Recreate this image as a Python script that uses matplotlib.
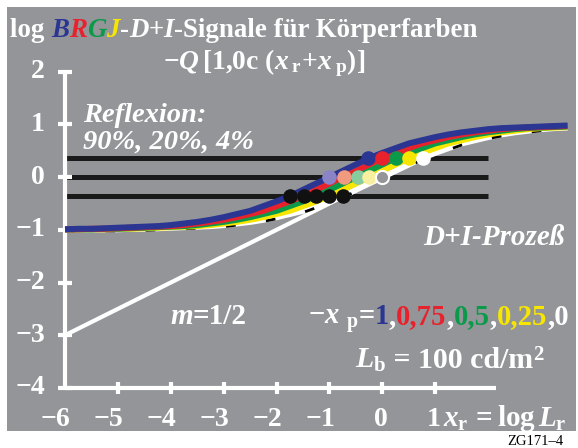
import numpy as np
import matplotlib
matplotlib.use("Agg")
import matplotlib.pyplot as plt
from matplotlib.patches import Rectangle

plt.rcParams["font.family"] = "Liberation Serif"
plt.rcParams["font.weight"] = "bold"
plt.rcParams["mathtext.fontset"] = "custom"
plt.rcParams["mathtext.rm"] = "Liberation Serif:bold"
plt.rcParams["mathtext.it"] = "Liberation Serif:italic:bold"
plt.rcParams["mathtext.bf"] = "Liberation Serif:bold"

# base curve (xp = 0)
base_x = np.arange(-6.0, 4.51, 0.25)
base_y = [-0.99, -0.99, -0.99, -0.99, -0.99, -0.98, -0.98, -0.97, -0.96,
          -0.95, -0.94, -0.93, -0.91, -0.88, -0.85, -0.81, -0.76, -0.70,
          -0.64, -0.55, -0.46, -0.36, -0.24, -0.12, 0.0, 0.12, 0.24, 0.36,
          0.46, 0.55, 0.64, 0.70, 0.76, 0.81, 0.85, 0.88, 0.91, 0.93, 0.94,
          0.95, 0.96, 0.97, 0.98]
xp_values = [0.0, 0.25, 0.5, 0.75, 1.0]
curve_colors = ["white", "#f7e600", "#0a9a4a", "#e8222c", "#2b3592"]

# reflection levels and the dots on them
levels = [0.37, 0.0, -0.35]
dots_top_x = [-0.28, 0.0, 0.26, 0.51, 0.76]
dots_top_c = ["#2b3592", "#e8222c", "#0a9a4a", "#f7e600", "white"]
dots_mid_x = [-1.0, -0.73, -0.47, -0.25, 0.0]
dots_mid_c = ["#8a84c6", "#f09a80", "#86cc9e", "#f8f0a0", "none"]
dots_low_x = [-1.75, -1.49, -1.25, -1.0, -0.75]

line_x = [-6.0, -0.5]   # slope m = 1/2 line
y_ticks = [-4, -3, -2, -1, 0, 1, 2]
x_ticks = [-6, -5, -4, -3, -2, -1, 0, 1]

W, H = 578, 448
GRAY = "#949599"

fig = plt.figure(figsize=(W / 100, H / 100), dpi=100)
fig.patch.set_facecolor("white")
ax = fig.add_axes([0, 0, 1, 1])
ax.set_xlim(-7.229, 3.698)
ax.set_ylim(-5.140, 3.361)
ax.axis("off")


def fx(px):
    return px / W


def fy(py):
    return 1 - py / H


fig.patches.append(Rectangle((fx(7), fy(431)), 569 / W, 424 / H,
                             transform=fig.transFigure, facecolor=GRAY,
                             edgecolor="none", zorder=-5))


def lab(t):
    return "\u2212%d" % -t if t < 0 else str(t)


# axes
ax.plot([-6, -6], [-4, 2], color="white", lw=3, solid_capstyle="butt", zorder=3)
ax.plot([-6, 2.15], [-4, -4], color="white", lw=3, solid_capstyle="butt", zorder=3)
for t in y_ticks:
    ax.plot([-6.13, -5.87], [t, t], color="white", lw=3, solid_capstyle="butt", zorder=3)
    ax.text(-6.38, t, lab(t), color="white", fontsize=20, ha="right", va="center")
for t in x_ticks:
    if t > -6:
        ax.plot([t, t], [-4.11, -3.89], color="white", lw=3, solid_capstyle="butt", zorder=3)
    ax.text(t + 0.1, -4.72, lab(t), color="white", fontsize=20, ha="right", va="baseline")

# reflection lines
for lv in levels:
    ax.plot([-6, 2.0], [lv, lv], color="#1a1a1a", lw=3.6, solid_capstyle="butt", zorder=2)

# m = 1/2 straight line
ax.plot(line_x, [v / 2 for v in line_x], color="white", lw=3, zorder=2)

# signal curves
bx = np.array(base_x)
by = np.array(base_y)
for i, (xp, c) in enumerate(zip(xp_values, curve_colors)):
    xs = bx - xp
    m = (xs >= -6.0) & (xs <= 3.5)
    ax.plot(xs[m], by[m], color=c, lw=4.3, zorder=4 + i, solid_capstyle="butt")
m0 = bx <= 3.5
ax.plot(bx[m0], by[m0] - 0.03, color="black", lw=2, dashes=(3.5, 11), zorder=4.5)

# dots
for x, c in zip(dots_top_x, dots_top_c):
    ax.plot(x, levels[0], "o", ms=10.5, color=c, mec="none", zorder=10)
for x, c in zip(dots_mid_x, dots_mid_c):
    if c == "none":
        ax.plot(x, levels[1], "o", ms=9.5, mfc=GRAY, mec="white", mew=1.5, zorder=10)
    else:
        ax.plot(x, levels[1], "o", ms=10.5, color=c, mec="none", zorder=10)
for x in dots_low_x[::-1]:
    ax.plot(x, levels[2], "o", ms=10.5, color="#111111", mec="none", zorder=10)

renderer = fig.canvas.get_renderer()


def chain(px, py, pieces, size):
    for s, c, st in pieces:
        t = fig.text(fx(px), fy(py), s, color=c, fontsize=size, style=st,
                     weight="bold", ha="left", va="baseline")
        px += t.get_window_extent(renderer).width


chain(10, 37, [("log ", "white", "normal"), ("B", "#2b3592", "italic"),
               ("R", "#e8222c", "italic"), ("G", "#0a9a4a", "italic"),
               ("J", "#f7e600", "italic"), ("-", "white", "normal"),
               ("D", "white", "italic"), ("+", "white", "normal"),
               ("I", "white", "italic"),
               ("-Signale für Körperfarben", "white", "normal")], 19.4)
chain(163, 69, [(r"$-Q\,[1{,}0\mathrm{c}\ (x\,_{\mathrm{r}}\!+\!x\,_{\mathrm{p}})]$",
                 "white", "normal")], 19.8)
chain(83, 122, [("Reflexion:", "white", "italic")], 20.5)
chain(83, 149, [("90%, 20%, 4%", "white", "italic")], 20.5)
chain(423, 245, [("D+I-Prozeß", "white", "italic")], 21)
chain(170, 324, [("m", "white", "italic"), ("=1/2", "white", "normal")], 21)
chain(308, 324, [(r"$-x\ _{\mathrm{p}}$", "white", "normal"), ("=", "white", "normal"),
                 ("1", "#2b3592", "normal"), (",", "white", "normal"),
                 ("0,75", "#e8222c", "normal"), (",", "white", "normal"),
                 ("0,5", "#0a9a4a", "normal"), (",", "white", "normal"),
                 ("0,25", "#f7e600", "normal"), (",0", "white", "normal")], 20.6)
chain(355, 368, [(r"$L_{\mathrm{b}}$", "white", "normal"),
                 (" = 100 cd/m", "white", "normal"),
                 (r"$^{2}$", "white", "normal")], 21.5)
chain(443, 426, [(r"$x_{\mathrm{r}}\,=\mathrm{log}\,L_{\mathrm{r}}$", "white", "normal")], 21)
fig.text(fx(507), fy(445), "ZG171\u20134", color="black", fontsize=10.5,
         weight="normal", ha="left", va="baseline")

fig.savefig("out.png", dpi=100)
